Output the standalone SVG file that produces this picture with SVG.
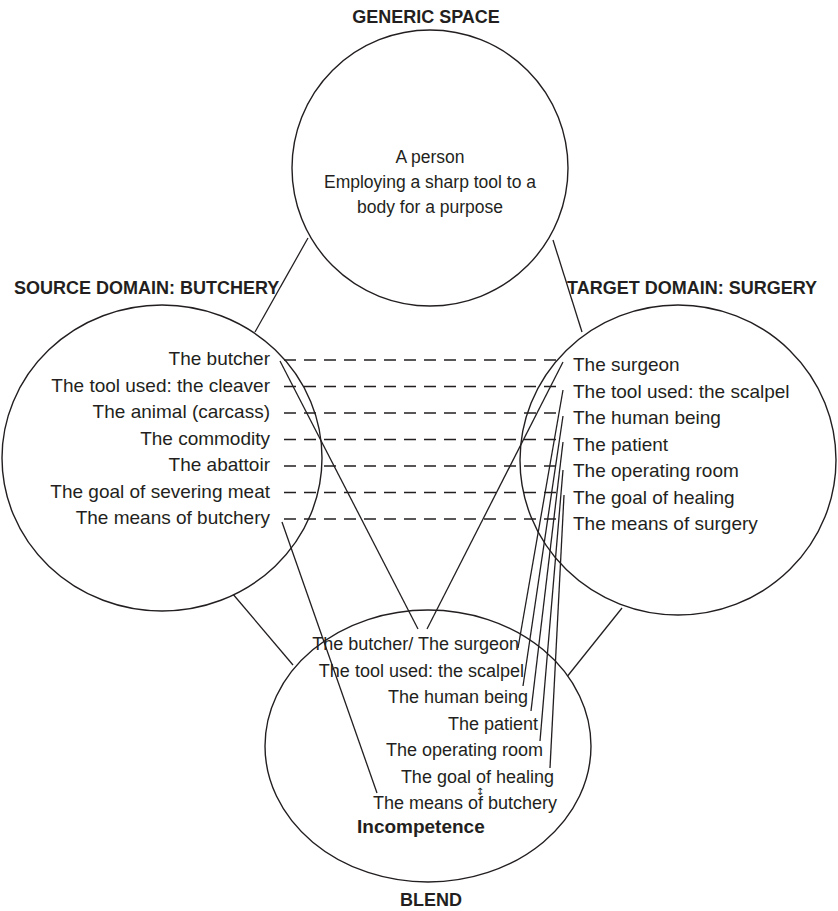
<svg xmlns="http://www.w3.org/2000/svg" width="838" height="911" viewBox="0 0 838 911">
  <style>
    .space { fill: #ffffff; stroke: #231f20; stroke-width: 1.4; }
    .link { stroke: #231f20; stroke-width: 1.3; fill: none; }
    .map { stroke: #231f20; stroke-width: 1.3; stroke-dasharray: 12 8; fill: none; }
    .title { font-family: "Liberation Sans", Arial, sans-serif; font-weight: bold; font-size: 18px; fill: #231f20; }
    .item { font-family: "Liberation Sans", Arial, sans-serif; font-size: 19px; fill: #231f20; }
    .generic { font-family: "Liberation Sans", Arial, sans-serif; font-size: 17.5px; fill: #231f20; }
    .blend { font-family: "Liberation Sans", Arial, sans-serif; font-size: 18px; fill: #231f20; }
    .emph { font-family: "Liberation Sans", Arial, sans-serif; font-weight: bold; font-size: 19px; fill: #231f20; }
    .mark { font-family: "DejaVu Sans", sans-serif; font-size: 10px; fill: #231f20; }
  </style>
  <rect width="838" height="911" fill="#ffffff"/>

  <!-- links between the four mental spaces -->
  <g id="space-links">
    <line class="link" x1="308" y1="238" x2="255" y2="332"/>
    <line class="link" x1="553" y1="240" x2="582" y2="332"/>
    <line class="link" x1="232" y1="593" x2="293" y2="665"/>
    <line class="link" x1="622" y1="608" x2="566" y2="678"/>
  </g>

  <g id="generic-space">
    <ellipse class="space" cx="430" cy="168" rx="138" ry="138"/>
    <text class="title" x="426" y="23" text-anchor="middle">GENERIC SPACE</text>
    <text class="generic" x="430" y="163" text-anchor="middle">A person</text>
    <text class="generic" x="430" y="188" text-anchor="middle">Employing a sharp tool to a</text>
    <text class="generic" x="430" y="213" text-anchor="middle">body for a purpose</text>
  </g>

  <g id="source-domain">
    <ellipse class="space" cx="162" cy="458" rx="160" ry="153"/>
    <text class="title" x="14" y="294">SOURCE DOMAIN: BUTCHERY</text>
    <g text-anchor="end">
      <text class="item" x="270" y="365">The butcher</text>
      <text class="item" x="270" y="391.5">The tool used: the cleaver</text>
      <text class="item" x="270" y="418">The animal (carcass)</text>
      <text class="item" x="270" y="444.5">The commodity</text>
      <text class="item" x="270" y="471">The abattoir</text>
      <text class="item" x="270" y="497.5">The goal of severing meat</text>
      <text class="item" x="270" y="524">The means of butchery</text>
    </g>
  </g>

  <g id="target-domain">
    <ellipse class="space" cx="678" cy="460" rx="158" ry="155"/>
    <text class="title" x="567" y="294">TARGET DOMAIN: SURGERY</text>
    <text class="item" x="573" y="371">The surgeon</text>
    <text class="item" x="573" y="397.5">The tool used: the scalpel</text>
    <text class="item" x="573" y="424">The human being</text>
    <text class="item" x="573" y="450.5">The patient</text>
    <text class="item" x="573" y="477">The operating room</text>
    <text class="item" x="573" y="503.5">The goal of healing</text>
    <text class="item" x="573" y="530">The means of surgery</text>
  </g>

  <g id="blend">
    <ellipse class="space" cx="428" cy="746" rx="163" ry="136"/>
    <text class="title" x="431" y="906" text-anchor="middle">BLEND</text>
    <g text-anchor="end">
      <text class="blend" x="519" y="650">The butcher/ The surgeon</text>
      <text class="blend" x="524" y="676.5">The tool used: the scalpel</text>
      <text class="blend" x="528" y="703">The human being</text>
      <text class="blend" x="538" y="729.5">The patient</text>
      <text class="blend" x="543" y="756">The operating room</text>
      <text class="blend" x="554" y="782.5">The goal of healing</text>
      <text class="blend" x="557" y="809">The means of butchery</text>
    </g>
    <text class="mark" x="480" y="795" text-anchor="middle">↕</text>
    <text class="emph" x="357" y="833">Incompetence</text>
  </g>

  <!-- cross-space mappings and projections into the blend -->
  <g id="mappings">
    <line class="map" x1="284" y1="360" x2="562" y2="360"/>
    <line class="map" x1="284" y1="386.5" x2="562" y2="386.5"/>
    <line class="map" x1="284" y1="413" x2="562" y2="413"/>
    <line class="map" x1="284" y1="439.5" x2="562" y2="439.5"/>
    <line class="map" x1="284" y1="466" x2="562" y2="466"/>
    <line class="map" x1="284" y1="492.5" x2="562" y2="492.5"/>
    <line class="map" x1="284" y1="519" x2="562" y2="519"/>

    <line class="link" x1="280" y1="361" x2="418" y2="629"/>
    <line class="link" x1="563" y1="362" x2="427" y2="629"/>
    <line class="link" x1="282" y1="522" x2="377" y2="793"/>
    <line class="link" x1="563" y1="390" x2="518" y2="648"/>
    <line class="link" x1="563" y1="416" x2="523" y2="686"/>
    <line class="link" x1="563" y1="442" x2="531" y2="711"/>
    <line class="link" x1="563" y1="470" x2="540" y2="741"/>
    <line class="link" x1="564" y1="495" x2="550" y2="768"/>
  </g>
</svg>
